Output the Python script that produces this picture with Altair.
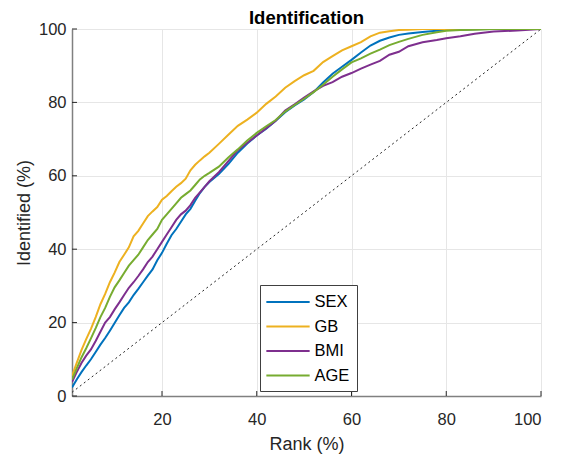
import altair as alt
import pandas as pd

RANK = list(range(1, 31)) + list(range(32, 71, 2)) + [72, 75, 78, 80, 83, 86, 90, 95, 100]

SEX = [2.3, 4.5, 6.5, 8.3, 10, 12, 14, 15.8, 17.8, 19.9, 22, 24, 25.5, 27.5, 29.2, 31, 32.8, 34.5, 37, 39,
       41.5, 43.8, 45.5, 47.5, 49.5, 51, 53.2, 55.3, 57, 58.3,
       60.5, 63.2, 66.3, 68.8, 71, 72.8, 75, 77.3, 79.2, 80.8, 82.8, 85.4, 87.8, 89.7, 91.6, 93.6, 95.5, 96.8, 97.7, 98.4,
       98.8, 99.2, 99.5, 99.7, 99.8, 99.9, 100, 100, 100]
GB = [5.5, 9, 12.5, 15.5, 18.3, 21.5, 25, 27.8, 31, 33.6, 36.5, 38.5, 40.5, 43.5, 45, 47, 49, 50.3, 51.5, 53.5,
      54.5, 55.8, 57, 58, 59.2, 61.5, 63, 64.2, 65.3, 66.3,
      68.7, 71.2, 73.6, 75.3, 77.2, 79.6, 81.6, 84, 85.8, 87.4, 88.6, 91, 92.6, 94.2, 95.3, 96.4, 98, 99, 99.4, 99.7,
      99.8, 100, 100, 100, 100, 100, 100, 100, 100]
BMI = [3.8, 6.5, 9, 11, 12.7, 15, 17.5, 20, 21.5, 23.6, 25.5, 27.5, 29.5, 31, 32.7, 34.5, 36.5, 38, 40, 42,
       44, 46, 48, 49.5, 50.5, 52, 54, 55.5, 57, 58.5,
       61, 64, 67, 69, 71, 73, 75, 77.8, 79.5, 81.3, 83, 84.5, 85.5, 87, 88, 89.2, 90.3, 91.3, 93, 93.8,
       95.3, 96.4, 97, 97.5, 98, 98.7, 99.3, 99.6, 100]
AGE = [4.5, 7.5, 10.5, 13, 15.7, 18.5, 21.5, 24, 27, 29.6, 31.5, 33.5, 35.5, 37, 38.5, 40.5, 42.5, 44, 45.5, 48,
       49.5, 51, 52.5, 54, 55, 56, 57.5, 59, 60, 60.8,
       62.5, 65, 67.2, 69.6, 71.7, 73.5, 75.2, 77.5, 79.3, 81, 82.8, 84.8, 87, 89, 90.9, 92, 93.3, 94.4, 95.6, 96.5,
       97.3, 98.4, 99.1, 99.5, 99.7, 99.8, 100, 100, 100]

SERIES = ["SEX", "GB", "BMI", "AGE"]
COLORS = ["#0072BD", "#EDB120", "#7E2F8E", "#77AC30"]
DIAG_X = [1, 100]
DIAG_Y = [1, 100]
X_TICKS = [20, 40, 60, 80, 100]
Y_TICKS = [0, 20, 40, 60, 80, 100]

rows = []
for name, vals in zip(SERIES, [SEX, GB, BMI, AGE]):
    for r, v in zip(RANK, vals):
        rows.append({"rank": r, "ident": v, "series": name})
df = pd.DataFrame(rows)
diag = pd.DataFrame({"rank": DIAG_X, "ident": DIAG_Y})
xt = pd.DataFrame({"v": X_TICKS})
yt = pd.DataFrame({"v": Y_TICKS})

W, H = 469, 367
FONT = "Liberation Sans"

xscale = alt.Scale(domain=[1, 100], nice=False, zero=False)
yscale = alt.Scale(domain=[0, 100], nice=False)

xaxis = alt.Axis(values=X_TICKS, title="Rank (%)", grid=True, ticks=False,
                 labelPadding=28, labelBaseline="alphabetic",
                 labelFont=FONT, labelFontSize=16.5, labelColor="#262626",
                 titleFont=FONT, titleFontSize=18, titleColor="#262626", titleFontWeight="normal",
                 titleX=W / 2, titleY=53, titleBaseline="alphabetic", titleAlign="center",
                 domainColor="#808080", domainWidth=1.5, gridColor="#e6e6e6", gridWidth=1)
yaxis = alt.Axis(values=Y_TICKS, title="Identified (%)", grid=True, ticks=False,
                 labelPadding=6, labelFont=FONT, labelFontSize=16.5, labelColor="#262626",
                 titleFont=FONT, titleFontSize=18, titleColor="#262626", titleFontWeight="normal",
                 titleX=-43, titleY=H / 2, titleBaseline="alphabetic",
                 titleAlign="center", titleAngle=270,
                 domainColor="#808080", domainWidth=1.5, gridColor="#e6e6e6", gridWidth=1)

diag_layer = alt.Chart(diag).mark_line(color="#262626", strokeWidth=1, strokeDash=[2, 3]).encode(
    x=alt.X("rank:Q", scale=xscale, axis=xaxis),
    y=alt.Y("ident:Q", scale=yscale, axis=yaxis),
)

lines = alt.Chart(df).mark_line(strokeWidth=2, clip=True).encode(
    x=alt.X("rank:Q", scale=xscale),
    y=alt.Y("ident:Q", scale=yscale),
    color=alt.Color("series:N", scale=alt.Scale(domain=SERIES, range=COLORS),
                    sort=SERIES,
                    legend=alt.Legend(title=None, orient="none", legendX=188, legendY=256,
                                      strokeColor="#404040", fillColor="white", padding=7,
                                      symbolType="M-2.5,0H2.5", symbolSize=300,
                                      symbolStrokeWidth=2, symbolOffset=11, labelOffset=16.5,
                                      rowPadding=5.5, labelFontSize=16.5, labelFont=FONT,
                                      labelColor="#000000", cornerRadius=0)),
    order=alt.Order("rank:Q"),
)

ytick_layer = alt.Chart(yt).mark_rule(color="#262626", strokeWidth=1).encode(
    y=alt.Y("v:Q", scale=yscale), x=alt.value(0), x2=alt.value(5))
xtick_layer = alt.Chart(xt).mark_rule(color="#262626", strokeWidth=1).encode(
    x=alt.X("v:Q", scale=xscale), y=alt.value(H), y2=alt.value(H - 5))

chart = alt.layer(diag_layer, lines, ytick_layer, xtick_layer).properties(
    width=W, height=H,
    background="white",
    title=alt.TitleParams("Identification", fontSize=18.5, fontWeight="bold", font=FONT,
                          color="#000000", offset=2, dy=8, anchor="middle"),
    autosize=alt.AutoSizeParams(type="none"),
    padding={"left": 72, "top": 29, "right": 20, "bottom": 60},
).configure_view(stroke=None)

chart.save("out.html", embed_options={"renderer": "svg", "actions": False})
